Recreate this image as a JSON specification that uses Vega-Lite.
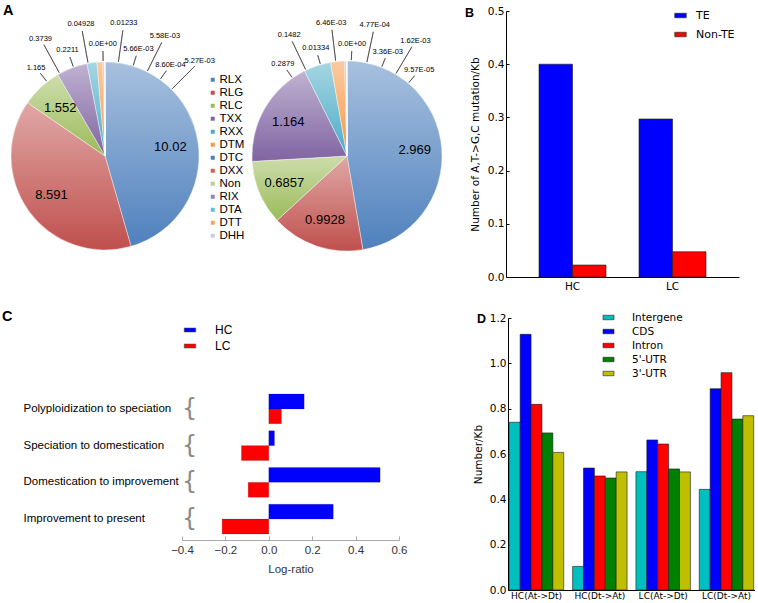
{
  "$schema": "https://vega.github.io/schema/vega-lite/v6.json",
  "background": "white",
  "padding": {"left": 2, "top": 3, "right": 0, "bottom": 0},
  "columns": 3,
  "align": "each",
  "bounds": "flush",
  "spacing": {"row": 17, "column": 76},
  "datasets": {
    "pie1": [
      {"type": "RLX", "value": 10.02, "order": 1, "label": "10.02"},
      {"type": "RLG", "value": 8.591, "order": 2, "label": "8.591"},
      {"type": "RLC", "value": 1.552, "order": 3, "label": "1.552"},
      {"type": "TXX", "value": 1.165, "order": 4, "label": "1.165"},
      {"type": "RXX", "value": 0.3739, "order": 5, "label": "0.3739"},
      {"type": "DTM", "value": 0.2211, "order": 6, "label": "0.2211"},
      {"type": "DTC", "value": 0.04928, "order": 7, "label": "0.04928"},
      {"type": "DXX", "value": 0, "order": 8, "label": "0.0E+00"},
      {"type": "Non", "value": 0.01233, "order": 9, "label": "0.01233"},
      {"type": "RIX", "value": 0.00566, "order": 10, "label": "5.66E-03"},
      {"type": "DTA", "value": 0.00558, "order": 11, "label": "5.58E-03"},
      {"type": "DTT", "value": 0.00086, "order": 12, "label": "8.60E-04"},
      {"type": "DHH", "value": 0.00527, "order": 13, "label": "5.27E-03"}
    ],
    "pie2": [
      {"type": "RLX", "value": 2.969, "order": 1, "label": "2.969"},
      {"type": "RLG", "value": 0.9928, "order": 2, "label": "0.9928"},
      {"type": "RLC", "value": 0.6857, "order": 3, "label": "0.6857"},
      {"type": "TXX", "value": 1.164, "order": 4, "label": "1.164"},
      {"type": "RXX", "value": 0.2879, "order": 5, "label": "0.2879"},
      {"type": "DTM", "value": 0.1482, "order": 6, "label": "0.1482"},
      {"type": "DTC", "value": 0.01334, "order": 7, "label": "0.01334"},
      {"type": "DXX", "value": 0.00646, "order": 8, "label": "6.46E-03"},
      {"type": "Non", "value": 0, "order": 9, "label": "0.0E+00"},
      {"type": "RIX", "value": 0.000477, "order": 10, "label": "4.77E-04"},
      {"type": "DTA", "value": 0.00336, "order": 11, "label": "3.36E-03"},
      {"type": "DTT", "value": 0.00162, "order": 12, "label": "1.62E-03"},
      {"type": "DHH", "value": 0.0000957, "order": 13, "label": "9.57E-05"}
    ],
    "teb": [
      {"group": "HC", "class": "TE", "rate": 0.4},
      {"group": "HC", "class": "Non-TE", "rate": 0.0225},
      {"group": "LC", "class": "TE", "rate": 0.297},
      {"group": "LC", "class": "Non-TE", "rate": 0.0475}
    ],
    "logratio": [
      {"period": "Polyploidization to speciation", "series": "HC", "ratio": 0.163},
      {"period": "Polyploidization to speciation", "series": "LC", "ratio": 0.058},
      {"period": "Speciation to domestication", "series": "HC", "ratio": 0.026},
      {"period": "Speciation to domestication", "series": "LC", "ratio": -0.126},
      {"period": "Domestication to improvement", "series": "HC", "ratio": 0.513},
      {"period": "Domestication to improvement", "series": "LC", "ratio": -0.095},
      {"period": "Improvement to present", "series": "HC", "ratio": 0.297},
      {"period": "Improvement to present", "series": "LC", "ratio": -0.215}
    ],
    "region": [
      {"group": "HC(At->Dt)", "region": "Intergene", "rate": 0.740},
      {"group": "HC(At->Dt)", "region": "CDS", "rate": 1.128},
      {"group": "HC(At->Dt)", "region": "Intron", "rate": 0.819},
      {"group": "HC(At->Dt)", "region": "5'-UTR", "rate": 0.693},
      {"group": "HC(At->Dt)", "region": "3'-UTR", "rate": 0.607},
      {"group": "HC(Dt->At)", "region": "Intergene", "rate": 0.104},
      {"group": "HC(Dt->At)", "region": "CDS", "rate": 0.538},
      {"group": "HC(Dt->At)", "region": "Intron", "rate": 0.503},
      {"group": "HC(Dt->At)", "region": "5'-UTR", "rate": 0.494},
      {"group": "HC(Dt->At)", "region": "3'-UTR", "rate": 0.521},
      {"group": "LC(At->Dt)", "region": "Intergene", "rate": 0.522},
      {"group": "LC(At->Dt)", "region": "CDS", "rate": 0.662},
      {"group": "LC(At->Dt)", "region": "Intron", "rate": 0.644},
      {"group": "LC(At->Dt)", "region": "5'-UTR", "rate": 0.534},
      {"group": "LC(At->Dt)", "region": "3'-UTR", "rate": 0.521},
      {"group": "LC(Dt->At)", "region": "Intergene", "rate": 0.444},
      {"group": "LC(Dt->At)", "region": "CDS", "rate": 0.888},
      {"group": "LC(Dt->At)", "region": "Intron", "rate": 0.959},
      {"group": "LC(Dt->At)", "region": "5'-UTR", "rate": 0.754},
      {"group": "LC(Dt->At)", "region": "3'-UTR", "rate": 0.769}
    ]
  },
  "concat": [
    {
      "width": 166,
      "height": 290,
      "data": {"name": "pie1"},
      "title": {"text": "A", "anchor": "start", "frame": "group", "font": "Liberation Sans", "fontSize": 14.5, "fontWeight": "bold", "color": "black", "offset": 0, "baseline": "top", "dx": -19, "dy": 7.5},
      "resolve": {"scale": {"theta": "independent"}},
      "layer": [
        {
          "mark": {"type": "arc", "outerRadius": 94, "stroke": "white", "strokeWidth": 0.4},
          "encoding": {
            "theta": {"field": "value", "type": "quantitative", "stack": true},
            "order": {"field": "order", "type": "quantitative"},
            "color": {
              "field": "type", "type": "nominal",
              "scale": {
                "domain": ["RLX", "RLG", "RLC", "TXX", "RXX", "DTM", "DTC", "DXX", "Non", "RIX", "DTA", "DTT", "DHH"],
                "range": ["#4f81bd", "#c0504d", "#9bbb59", "#8064a2", "#4bacc6", "#f79646", "#4a7ebf", "#d0605e", "#b8d08a", "#9580b8", "#5fbfd8", "#f8a55c", "#c3cfe8"]
              },
              "legend": {"orient": "none", "legendX": 185, "legendY": 63, "title": null, "symbolType": "square", "symbolSize": 16, "symbolStrokeWidth": 0, "labelFont": "Liberation Sans", "labelFontSize": 11.5, "labelColor": "black", "rowPadding": 0, "labelOffset": 1}
            }
          }
        },
        {
          "mark": {"type": "arc", "outerRadius": 94, "fill": {"gradient": "linear", "x1": 0, "y1": 0, "x2": 0, "y2": 1, "stops": [{"offset": 0, "color": "rgba(255,255,255,0.5)"}, {"offset": 1, "color": "rgba(255,255,255,0)"}]}},
          "encoding": {
            "theta": {"field": "value", "type": "quantitative", "stack": true},
            "order": {"field": "order", "type": "quantitative"},
            "detail": {"field": "type", "type": "nominal"}
          }
        },
        {
          "mark": {"type": "text", "radius": 66, "font": "Liberation Sans", "fontSize": 13, "color": "black"},
          "encoding": {
            "theta": {"field": "value", "type": "quantitative", "stack": true},
            "order": {"field": "order", "type": "quantitative"},
            "detail": {"field": "type", "type": "nominal"},
            "text": {"condition": {"test": "datum.value > 1.5", "field": "label"}, "value": ""}
          }
        },
        {
          "transform": [{"filter": {"field": "type", "oneOf": ["TXX", "DTM", "DXX", "RIX", "DTT"]}}],
          "mark": {"type": "arc", "radius": 105, "radius2": 95, "filled": false, "stroke": "#333", "strokeWidth": 0.6},
          "encoding": {
            "theta": {"field": "order", "type": "quantitative", "stack": null, "scale": {"domain": [4, 13], "range": [-0.663, 0.785]}},
            "theta2": {"field": "order"}
          }
        },
        {
          "transform": [{"filter": {"field": "type", "oneOf": ["RXX", "DTC", "Non", "DTA", "DHH"]}}],
          "mark": {"type": "arc", "radius": 127, "radius2": 95, "filled": false, "stroke": "#333", "strokeWidth": 0.6},
          "encoding": {
            "theta": {"field": "order", "type": "quantitative", "stack": null, "scale": {"domain": [4, 13], "range": [-0.663, 0.785]}},
            "theta2": {"field": "order"}
          }
        },
        {
          "transform": [{"filter": {"field": "type", "oneOf": ["TXX", "DTM", "DXX", "RIX", "DTT"]}}],
          "mark": {"type": "text", "radius": 112, "font": "Liberation Sans", "fontSize": 7.5, "color": "black", "baseline": "middle"},
          "encoding": {
            "theta": {"field": "order", "type": "quantitative", "stack": null, "scale": {"domain": [4, 13], "range": [-0.663, 0.785]}},
            "text": {"field": "label"}
          }
        },
        {
          "transform": [{"filter": {"field": "type", "oneOf": ["RXX", "DTC", "Non", "DTA", "DHH"]}}],
          "mark": {"type": "text", "radius": 134, "font": "Liberation Sans", "fontSize": 7.5, "color": "black", "baseline": "middle"},
          "encoding": {
            "theta": {"field": "order", "type": "quantitative", "stack": null, "scale": {"domain": [4, 13], "range": [-0.663, 0.785]}},
            "text": {"field": "label"}
          }
        }
      ]
    },
    {
      "width": 166,
      "height": 290,
      "data": {"name": "pie2"},
      "resolve": {"scale": {"theta": "independent"}},
      "layer": [
        {
          "mark": {"type": "arc", "outerRadius": 95, "stroke": "white", "strokeWidth": 0.4},
          "encoding": {
            "theta": {"field": "value", "type": "quantitative", "stack": true},
            "order": {"field": "order", "type": "quantitative"},
            "color": {
              "field": "type", "type": "nominal",
              "scale": {
                "domain": ["RLX", "RLG", "RLC", "TXX", "RXX", "DTM", "DTC", "DXX", "Non", "RIX", "DTA", "DTT", "DHH"],
                "range": ["#4f81bd", "#c0504d", "#9bbb59", "#8064a2", "#4bacc6", "#f79646", "#4a7ebf", "#d0605e", "#b8d08a", "#9580b8", "#5fbfd8", "#f8a55c", "#c3cfe8"]
              },
              "legend": null
            }
          }
        },
        {
          "mark": {"type": "arc", "outerRadius": 95, "fill": {"gradient": "linear", "x1": 0, "y1": 0, "x2": 0, "y2": 1, "stops": [{"offset": 0, "color": "rgba(255,255,255,0.5)"}, {"offset": 1, "color": "rgba(255,255,255,0)"}]}},
          "encoding": {
            "theta": {"field": "value", "type": "quantitative", "stack": true},
            "order": {"field": "order", "type": "quantitative"},
            "detail": {"field": "type", "type": "nominal"}
          }
        },
        {
          "mark": {"type": "text", "radius": 68, "font": "Liberation Sans", "fontSize": 13, "color": "black"},
          "encoding": {
            "theta": {"field": "value", "type": "quantitative", "stack": true},
            "order": {"field": "order", "type": "quantitative"},
            "detail": {"field": "type", "type": "nominal"},
            "text": {"condition": {"test": "datum.value > 0.5", "field": "label"}, "value": ""}
          }
        },
        {
          "transform": [{"filter": {"field": "type", "oneOf": ["RXX", "DTC", "Non", "DTA", "DHH"]}}],
          "mark": {"type": "arc", "radius": 105, "radius2": 96, "filled": false, "stroke": "#333", "strokeWidth": 0.6},
          "encoding": {
            "theta": {"field": "order", "type": "quantitative", "stack": null, "scale": {"domain": [5, 13], "range": [-0.61, 0.70]}},
            "theta2": {"field": "order"}
          }
        },
        {
          "transform": [{"filter": {"field": "type", "oneOf": ["DTM", "DXX", "RIX", "DTT"]}}],
          "mark": {"type": "arc", "radius": 127, "radius2": 96, "filled": false, "stroke": "#333", "strokeWidth": 0.6},
          "encoding": {
            "theta": {"field": "order", "type": "quantitative", "stack": null, "scale": {"domain": [5, 13], "range": [-0.61, 0.70]}},
            "theta2": {"field": "order"}
          }
        },
        {
          "transform": [{"filter": {"field": "type", "oneOf": ["RXX", "DTC", "Non", "DTA", "DHH"]}}],
          "mark": {"type": "text", "radius": 112, "font": "Liberation Sans", "fontSize": 7.5, "color": "black", "baseline": "middle"},
          "encoding": {
            "theta": {"field": "order", "type": "quantitative", "stack": null, "scale": {"domain": [5, 13], "range": [-0.61, 0.70]}},
            "text": {"field": "label"}
          }
        },
        {
          "transform": [{"filter": {"field": "type", "oneOf": ["DTM", "DXX", "RIX", "DTT"]}}],
          "mark": {"type": "text", "radius": 134, "font": "Liberation Sans", "fontSize": 7.5, "color": "black", "baseline": "middle"},
          "encoding": {
            "theta": {"field": "order", "type": "quantitative", "stack": null, "scale": {"domain": [5, 13], "range": [-0.61, 0.70]}},
            "text": {"field": "label"}
          }
        }
      ]
    },
    {
      "width": 233,
      "height": 266,
      "data": {"name": "teb"},
      "title": {"text": "B", "anchor": "start", "frame": "group", "font": "Liberation Sans", "fontSize": 12.5, "fontWeight": "bold", "color": "black", "offset": 0, "baseline": "top", "dx": -41, "dy": 13},
      "mark": {"type": "bar", "stroke": "#1a1a1a", "strokeWidth": 0.6},
      "encoding": {
        "x": {"field": "group", "type": "nominal", "sort": ["HC", "LC"], "scale": {"paddingInner": 0.33, "paddingOuter": 0.33},
          "axis": {"title": null, "labelAngle": 0, "ticks": false, "domainColor": "black", "labelFont": "DejaVu Sans", "labelFontSize": 10.5, "labelColor": "black", "labelPadding": 4}},
        "xOffset": {"field": "class", "type": "nominal", "sort": ["TE", "Non-TE"], "scale": {"paddingInner": 0, "paddingOuter": 0}},
        "y": {"field": "rate", "type": "quantitative", "scale": {"domain": [0, 0.5], "nice": false},
          "axis": {"title": "Number of A,T->G,C mutation/Kb", "values": [0, 0.1, 0.2, 0.3, 0.4, 0.5], "tickCount": 12, "format": ".1f", "grid": false, "domainColor": "black", "tickColor": "black", "tickSize": -3, "labelPadding": 5, "labelFont": "DejaVu Sans", "labelFontSize": 10.5, "labelColor": "black", "titleFont": "DejaVu Sans", "titleFontSize": 10.5, "titleFontWeight": "normal", "titleColor": "black", "titlePadding": 7}},
        "color": {"field": "class", "type": "nominal", "scale": {"domain": ["TE", "Non-TE"], "range": ["#0000ff", "#ff0000"]},
          "legend": {"orient": "none", "legendX": 169, "legendY": -1, "title": null, "symbolType": "M-1.15,-0.45H1.15V0.45H-1.15Z", "symbolSize": 100, "symbolStrokeColor": "#222", "symbolStrokeWidth": 0.6, "labelFont": "DejaVu Sans", "labelFontSize": 11, "labelColor": "black", "rowPadding": 7, "labelOffset": 10}}
      }
    },
    {
      "width": 166,
      "height": 222,
      "data": {"name": "logratio"},
      "title": {"text": "C", "anchor": "start", "frame": "group", "font": "Liberation Sans", "fontSize": 14.5, "fontWeight": "bold", "color": "black", "offset": 0, "baseline": "top", "dx": -20, "dy": 6.5},
      "layer": [
        {
          "mark": {"type": "bar", "stroke": "#000", "strokeOpacity": 0.3, "strokeWidth": 0.5},
          "encoding": {
            "y": {"field": "period", "type": "nominal", "sort": ["Polyploidization to speciation", "Speciation to domestication", "Domestication to improvement", "Improvement to present"],
              "scale": {"range": [76, 216], "paddingInner": 0.19, "paddingOuter": 0},
              "axis": {"title": null, "domain": false, "ticks": false, "labelAlign": "left", "labelPadding": -1, "labelLimit": 0, "labelFont": "Liberation Sans", "labelFontSize": 11.5, "labelColor": "black"}},
            "yOffset": {"field": "series", "type": "nominal", "sort": ["HC", "LC"], "scale": {"paddingInner": 0, "paddingOuter": 0}},
            "x": {"field": "ratio", "type": "quantitative", "scale": {"domain": [-0.4, 0.6], "range": [160, 377], "nice": false},
              "axis": {"title": "Log-ratio", "values": [-0.4, -0.2, 0, 0.2, 0.4, 0.6], "tickCount": 12, "format": ".1f", "labelOverlap": false, "labelFlush": false, "labelBound": false, "grid": false, "domainColor": "#aaa", "tickColor": "#aaa", "tickSize": -4, "labelPadding": 8, "labelFont": "Liberation Sans", "labelFontSize": 11.5, "labelColor": "#333", "titleFont": "Liberation Sans", "titleFontSize": 11.5, "titleFontWeight": "normal", "titleColor": "#333", "titlePadding": 8}},
            "color": {"field": "series", "type": "nominal", "scale": {"domain": ["HC", "LC"], "range": ["#0000ff", "#ff0000"]},
              "legend": {"orient": "none", "legendX": 162, "legendY": 6, "title": null, "symbolType": "M-1.15,-0.4H1.15V0.4H-1.15Z", "symbolSize": 100, "symbolStrokeColor": "#444", "symbolStrokeWidth": 0.5, "labelFont": "Liberation Sans", "labelFontSize": 12, "labelColor": "black", "rowPadding": 4, "labelOffset": 19}}
          }
        },
        {
          "transform": [{"filter": {"field": "series", "equal": "HC"}}],
          "mark": {"type": "text", "text": "{", "align": "left", "baseline": "middle", "font": "DejaVu Sans", "fontSize": 24, "color": "#8a8a8a"},
          "encoding": {
            "y": {"field": "period", "type": "nominal", "sort": ["Polyploidization to speciation", "Speciation to domestication", "Domestication to improvement", "Improvement to present"]},
            "x": {"datum": -0.4}
          }
        }
      ]
    },
    {
      "width": 166,
      "height": 272,
      "data": {"name": "region"},
      "title": {"text": "D", "anchor": "start", "frame": "group", "font": "Liberation Sans", "fontSize": 12.5, "fontWeight": "bold", "color": "black", "offset": 0, "baseline": "top", "dx": 213, "dy": 13.5},
      "mark": {"type": "bar", "stroke": "#1a1a1a", "strokeWidth": 0.6},
      "encoding": {
        "x": {"field": "group", "type": "nominal", "sort": ["HC(At->Dt)", "HC(Dt->At)", "LC(At->Dt)", "LC(Dt->At)"], "scale": {"range": [244, 491], "paddingInner": 0.14, "paddingOuter": 0.02},
          "axis": {"title": null, "labelAngle": 0, "ticks": false, "domainColor": "black", "labelFont": "DejaVu Sans", "labelFontSize": 9, "labelColor": "black", "labelPadding": 1}},
        "xOffset": {"field": "region", "type": "nominal", "sort": ["Intergene", "CDS", "Intron", "5'-UTR", "3'-UTR"], "scale": {"paddingInner": 0, "paddingOuter": 0}},
        "y": {"field": "rate", "type": "quantitative", "scale": {"domain": [0, 1.2], "nice": false},
          "axis": {"title": "Number/Kb", "offset": -244, "values": [0, 0.2, 0.4, 0.6, 0.8, 1.0, 1.2], "tickCount": 12, "format": ".1f", "grid": false, "domainColor": "black", "tickColor": "black", "tickSize": -3, "labelPadding": 5, "labelFont": "DejaVu Sans", "labelFontSize": 10.5, "labelColor": "black", "titleFont": "DejaVu Sans", "titleFontSize": 10.5, "titleFontWeight": "normal", "titleColor": "black", "titlePadding": 6}},
        "color": {"field": "region", "type": "nominal", "scale": {"domain": ["Intergene", "CDS", "Intron", "5'-UTR", "3'-UTR"], "range": ["#00bfbf", "#0000ff", "#ff0000", "#008000", "#bfbf00"]},
          "legend": {"orient": "none", "legendX": 339, "legendY": -6, "title": null, "symbolType": "M-1.1,-0.45H1.1V0.45H-1.1Z", "symbolSize": 100, "symbolStrokeColor": "#222", "symbolStrokeWidth": 0.6, "labelFont": "DejaVu Sans", "labelFontSize": 10.5, "labelColor": "black", "rowPadding": 3, "labelOffset": 18}}
      }
    }
  ],
  "resolve": {
    "scale": {"color": "independent", "xOffset": "independent", "yOffset": "independent"},
    "legend": {"color": "independent"}
  },
  "config": {"view": {"stroke": null}, "axis": {"grid": false}}
}
